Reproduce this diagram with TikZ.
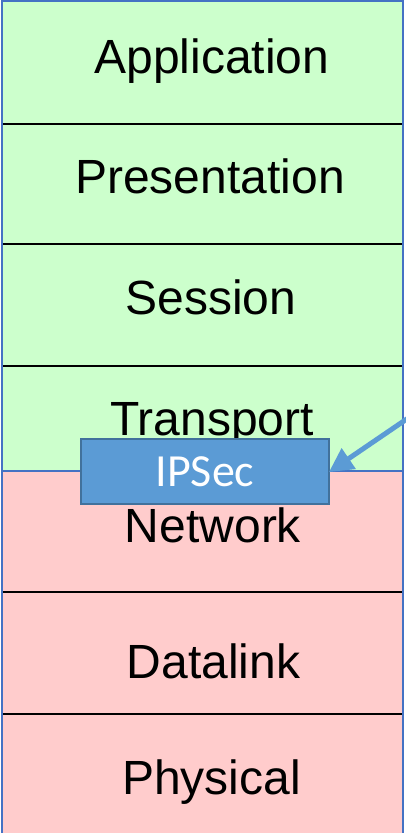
\documentclass[tikz,border=0pt]{standalone}
\usepackage{fontspec}
\setmainfont{Liberation Sans}
\newfontfamily\calib{Carlito}
\usetikzlibrary{arrows.meta}
\definecolor{upper}{HTML}{CCFFCC}
\definecolor{lower}{HTML}{FFCCCC}
\definecolor{frame}{HTML}{4472C4}
\definecolor{secfill}{HTML}{5B9BD5}
\definecolor{secline}{HTML}{41719C}
\tikzset{
  layertext/.style={anchor=base, inner sep=0pt, font=\fontsize{48}{56}\selectfont, text=black},
  divider/.style={black, line width=2pt},
  secbox/.style={draw=secline, line width=1.5pt, fill=secfill, minimum width=248pt, minimum height=65pt,
    inner sep=0pt, text=white, font=\calib\fontsize{46}{54}\selectfont},
  secarrow/.style={draw=secfill, line width=5pt, -{Triangle[length=24pt,width=24pt]}, shorten >=-1pt}
}
\begin{document}
\begin{tikzpicture}[x=1pt,y=-1pt]
  \useasboundingbox (0,0) rectangle (406,833);
  \clip (0,0) rectangle (406,833);
  % layer backgrounds
  \fill[upper] (2,1) rectangle (403,471);
  \fill[lower] (2,471) rectangle (403,840);
  % layer boundaries
  \draw[divider] (2,124) -- (403,124);
  \draw[divider] (2,244) -- (403,244);
  \draw[divider] (2,366) -- (403,366);
  \draw[divider] (2,592) -- (403,592);
  \draw[divider] (2,714) -- (403,714);
  \draw[frame, line width=2.5pt] (2,471) -- (403,471);
  \draw[frame, line width=2.5pt] (2,845) -- (2,1.2) -- (403,1.2) -- (403,845);
  % layer names
  \node[layertext] (app)  at (212,73)  {Application};
  \node[layertext] (pres) at (210,193) {Presentation};
  \node[layertext] (sess) at (211,314) {Session};
  \node[layertext] (tran) at (212,435) {Transport};
  \node[layertext] (net)  at (213,542) {Network};
  \node[layertext] (link) at (213.5,678) {Datalink};
  \node[layertext] (phys) at (211.5,794) {Physical};
  % IPSec box and pointer
  \node[secbox] (ipsec) at (205,471.5) {\raisebox{0pt}{IPSec}};
  \coordinate (src) at (420,410);
  \draw[secarrow] (src) -- (ipsec.east);
\end{tikzpicture}
\end{document}
